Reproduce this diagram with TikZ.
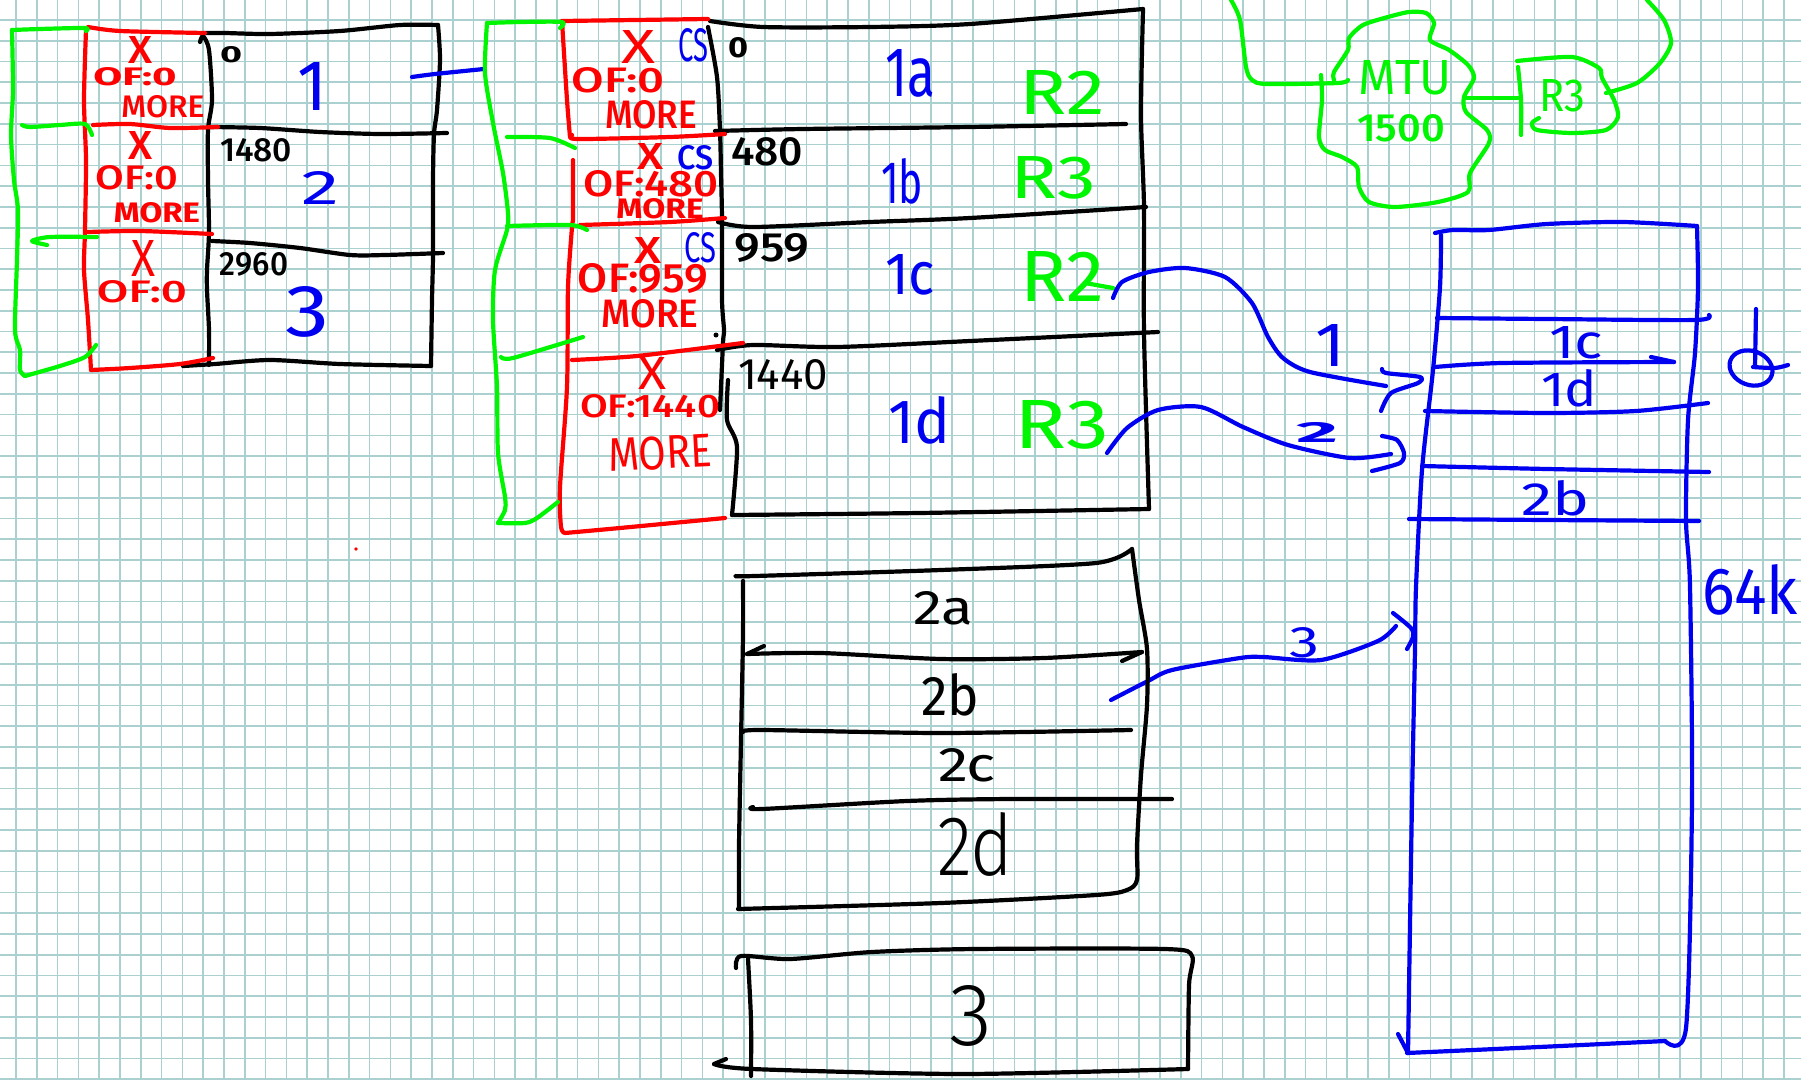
\documentclass[tikz,border=0pt]{standalone}
\usepackage{graphicx}
\usepackage{fontspec}
\setmainfont{Fira Sans}
\newfontfamily\lightf{Fira Sans Light}
\newfontfamily\mediumf{Fira Sans Medium}
\definecolor{hgreen}{RGB}{0,245,0}
\definecolor{hred}{RGB}{255,0,0}
\definecolor{hblue}{RGB}{0,0,240}
\definecolor{gridc}{RGB}{170,208,208}
\newcommand{\lab}[7][0]{\node[textmark,text=#6,rotate=#1] (#2) at (#3) {\resizebox{#4pt}{#5pt}{\ifdim#5pt<22pt\bfseries\else\ifdim#5pt<30pt\mediumf\else\ifdim#5pt>55pt\lightf\fi\fi\fi #7}};}
\tikzset{
  textmark/.style={inner sep=0pt,outer sep=0pt,anchor=center},
  ink/.style={line width=4.2pt,line cap=round,line join=round,smooth,tension=0.45},
  bk/.style={ink,draw=black},
  rd/.style={ink,draw=hred},
  gn/.style={ink,draw=hgreen},
  bl/.style={ink,draw=hblue},
  gridline/.style={draw=gridc,line width=1.7pt}
}
\begin{document}
\begin{tikzpicture}[x=1pt,y=-1pt]
\useasboundingbox (0,0) rectangle (1801,1079);
\fill[white] (0,0) rectangle (1801,1079);
% grid paper
\foreach \k in {0,...,86}{\draw[gridline] ({16+20.8*\k},0) -- ({16+20.8*\k},1079);}
\foreach \k in {0,...,51}{\draw[gridline] (0,{20+20.77*\k}) -- (1801,{20+20.77*\k});}

% ---------- first packet: black
\draw[bk] plot coordinates {(205,33)(225,33)(270,34)(340,31)(400,25)(438,25)};
\draw[bk] plot coordinates {(438,25)(440,60)(437,110)(434,134)(433,180)(433,255)(432,300)(431,366)};
\draw[bk] plot coordinates {(431,366)(340,364)(270,360)(215,364)(183,366)};
\draw[bk] plot coordinates {(200,42)(203,36)(209,50)(212,100)(208,130)(208,180)(209,232)(207,270)(207,290)(209,330)(209,365)};
\draw[bk] plot coordinates {(210,127)(260,128)(320,132)(380,134)(447,133)};
\draw[bk] plot coordinates {(212,241)(250,243)(300,248)(350,255)(385,255)(443,253)};
% first packet: red
\draw[rd] plot coordinates {(88,27)(120,31)(205,33)};
\draw[rd] plot coordinates {(86,30)(84,100)(86,160)(85,230)(84,270)(88,320)(91,370)};
\draw[rd] plot coordinates {(91,370)(130,368)(180,364)(213,358)};
\draw[rd] plot coordinates {(93,125)(130,124)(170,128)(218,127)};
\draw[rd] plot coordinates {(88,232)(140,231)(212,234)};
% first packet: green
\draw[gn] plot coordinates {(86,31)(85,28)(40,29)(12,30)};
\draw[gn] plot coordinates {(12,30)(13,90)(11,135)(14,180)(18,210)(17,260)(15,330)(20,350)(20,370)(25,376)};
\draw[gn] plot coordinates {(25,376)(60,366)(85,357)(96,345)};
\draw[gn] plot coordinates {(22,125)(30,127)(60,125)(85,124)(92,135)};
\draw[gn] plot coordinates {(47,245)(32,241)(50,237)(97,237)};
% link to fragments
\draw[bl] plot coordinates {(412,77)(435,74)(484,69)};

% ---------- fragments: black
\draw[bk] plot coordinates {(710,21)(763,27)(870,27)(970,24)(1143,9)};
\draw[bk] plot coordinates {(1143,9)(1141,115)(1144,207)(1144,333)(1149,509)};
\draw[bk] plot coordinates {(1149,509)(919,513)(732,515)};
\draw[bk] plot coordinates {(708,27)(717,77)(720,130)(721,173)(722,220)(722,300)(724,330)(723,343)(720,410)};
\draw[bk] plot coordinates {(728,380)(727,420)(737,447)(732,515)};
\draw[bk] plot coordinates {(715,131)(803,129)(970,127)(1126,124)};
\draw[bk] plot coordinates {(718,222)(753,227)(870,222)(970,218)(1146,207)};
\draw[bk] plot coordinates {(717,350)(753,345)(837,347)(970,341)(1158,332)};
\fill (716,335) circle (2.5pt);
% fragments: red
\draw[rd] plot coordinates {(708,19)(562,21)};
\draw[rd] plot coordinates {(562,21)(567,100)(570,137)};
\draw[rd] plot coordinates {(573,160)(573,217)(572,227)(568,287)(567,387)(560,487)(561,527)(565,533)};
\draw[rd] plot coordinates {(565,533)(620,528)(725,518)};
\draw[rd] plot coordinates {(572,135)(577,139)(670,137)(725,134)};
\draw[rd] plot coordinates {(580,225)(670,222)(725,218)};
\draw[rd] plot coordinates {(572,360)(637,356)(743,343)};
% fragments: green
\draw[gn] plot coordinates {(560,28)(562,22)(520,22)(487,23)};
\draw[gn] plot coordinates {(487,23)(485,73)(493,123)(503,173)(508,213)(507,230)(495,270)(493,320)(497,387)(498,453)(505,497)(505,510)(498,523)};
\draw[gn] plot coordinates {(498,523)(525,523)(537,518)(558,502)};
\draw[gn] plot coordinates {(507,137)(550,138)(575,148)};
\draw[gn] plot coordinates {(507,226)(570,225)(587,230)};
\draw[gn] plot coordinates {(501,357)(513,358)(583,337)};
\draw[gn] plot coordinates {(1085,283)(1113,288)};

% ---------- cloud
\draw[gn] plot coordinates {(1231,0)(1240,20)(1246,67)(1252,80)(1267,84)(1338,83)(1348,80)};
\draw[gn] plot coordinates {(1334,80)(1334,72)(1348,50)(1349,38)(1363,25)(1388,17)(1409,12)(1426,13)(1434,23)(1430,40)(1449,50)(1468,65)(1474,78)(1464,97)(1466,112)(1487,130)(1489,143)(1470,173)(1468,192)(1438,202)(1395,207)(1369,202)(1359,187)(1357,167)(1342,157)(1325,150)(1319,137)(1322,100)(1321,75)};
\draw[gn] plot coordinates {(1466,98)(1518,98)};
\draw[gn] plot coordinates {(1518,67)(1521,100)(1521,135)};
\draw[gn] plot coordinates {(1517,61)(1572,57)(1599,68)(1602,78)(1614,100)(1618,117)(1606,130)(1572,133)(1537,130)(1532,123)(1539,118)};
\draw[gn] plot coordinates {(1647,0)(1664,20)(1671,43)(1660,63)(1637,83)(1606,93)};

% ---------- reassembly buffer
\draw[bl] plot coordinates {(1435,233)(1453,230)(1489,230)(1547,224)(1623,222)(1697,226)};
\draw[bl] plot coordinates {(1697,226)(1698,287)(1695,353)(1688,420)(1686,520)(1690,587)(1692,800)(1686,1028)(1665,1041)};
\draw[bl] plot coordinates {(1665,1041)(1539,1047)(1407,1053)};
\draw[bl] plot coordinates {(1441,235)(1440,287)(1433,370)(1422,470)(1416,587)(1415,650)(1412,800)(1408,1053)};
\draw[bl] plot coordinates {(1408,1053)(1398,1034)};
\draw[bl] plot coordinates {(1437,318)(1547,319)(1695,320)(1709,315)};
\draw[bl] plot coordinates {(1435,367)(1502,363)(1674,362)};
\draw[bl] plot coordinates {(1674,362)(1651,357)};
\draw[bl] plot coordinates {(1425,411)(1547,413)(1636,411)(1708,403)};
\draw[bl] plot coordinates {(1422,466)(1547,469)(1709,472)};
\draw[bl] plot coordinates {(1409,519)(1547,520)(1699,521)};
% symbol right of buffer
\draw[bl] plot coordinates {(1756,309)(1755,367)};
\draw[bl,rotate around={-20:(1751,368)}] (1751,368) ellipse (22pt and 17pt);
\draw[bl] plot coordinates {(1753,367)(1775,368)(1788,365)};
% arrows
\draw[bl] plot coordinates {(1113,298)(1122,282)(1149,272)(1185,268)(1225,277)(1252,303)(1268,337)(1283,358)(1310,372)(1386,386)};
\draw[bl] plot coordinates {(1382,369)(1386,373)(1420,377)(1418,383)(1391,393)(1381,411)};
\draw[bl] plot coordinates {(1107,453)(1127,428)(1158,410)(1201,407)(1243,427)(1288,445)(1350,458)(1391,454)};
\draw[bl] plot coordinates {(1382,436)(1397,440)(1404,453)(1400,463)(1372,471)};
\draw[bl] plot coordinates {(1111,700)(1148,681)(1172,670)(1240,658)(1263,657)(1321,660)(1378,641)(1396,626)};
\draw[bl] plot coordinates {(1393,613)(1411,628)(1413,637)(1407,649)};

% ---------- second packet
\draw[bk] plot coordinates {(736,576)(755,576)(941,570)(1096,563)(1132,549)};
\draw[bk] plot coordinates {(1132,549)(1139,600)(1147,649)(1147,705)(1141,775)(1137,845)(1137,880)(1127,890)(1096,895)(941,903)(738,909)};
\draw[bk] plot coordinates {(743,581)(743,635)(741,740)(739,845)(739,909)};
\draw[bk] plot coordinates {(764,646)(747,654)};
\draw[bk] plot coordinates {(747,654)(821,653)(941,659)(1044,658)(1142,652)};
\draw[bk] plot coordinates {(1142,652)(1122,661)};
\draw[bk] plot coordinates {(743,732)(762,730)(941,733)(1131,730)};
\draw[bk] plot coordinates {(753,807)(762,809)(907,801)(1010,799)(1172,799)};
% third packet
\draw[bk] plot coordinates {(736,968)(741,956)(790,959)(872,952)(975,949)(1165,949)(1192,956)(1189,985)(1188,1069)};
\draw[bk] plot coordinates {(1188,1069)(963,1074)(752,1069)(714,1064)};
\draw[bk] plot coordinates {(714,1064)(726,1059)};
\draw[bk] plot coordinates {(748,959)(751,1020)(751,1076)};
\fill[hred] (356,549) circle (1.8pt);

% ---------- labels, first packet
\lab{xa}{141,50}{24}{27}{hred}{X}
\lab{ofa}{135,77}{83}{18}{hred}{OF:0}
\lab{ma}{163,107}{83}{22}{hred}{MORE}
\lab{xb}{140,145}{24}{28}{hred}{X}
\lab{ofb}{137,178}{82}{24}{hred}{OF:0}
\lab{mb}{157,213}{86}{20}{hred}{MORE}
\lab{xc}{144,258}{24}{36}{hred}{X}
\lab{ofc}{142,292}{90}{22}{hred}{OF:0}
\lab{oa}{231,55}{22}{16}{black}{0}
\lab{ob}{256,150}{72}{23}{black}{1480}
\lab{oc}{254,264}{68}{23}{black}{2960}
\lab{na}{313,86}{30}{48}{hblue}{1}
\lab{nb}{320,188}{38}{33}{hblue}{2}
\lab{nc}{308,312}{44}{50}{hblue}{3}
% labels, fragments
\lab{xd}{638,47}{34}{33}{hred}{X}
\lab{csa}{693,45}{30}{33}{hblue}{CS}
\lab{ofd}{618,80}{93}{25}{hred}{OF:0}
\lab{md}{651,115}{92}{28}{hred}{MORE}
\lab{od}{738,48}{20}{20}{black}{0}
\lab{la}{910,73}{50}{47}{hblue}{1a}
\lab{ra}{1062,92}{86}{44}{hgreen}{R2}
\lab{xe}{650,156}{26}{26}{hred}{X}
\lab{cse}{695,158}{36}{24}{hblue}{CS}
\lab{ofe}{651,184}{135}{26}{hred}{OF:480}
\lab{me}{660,209}{87}{20}{hred}{MORE}
\lab{oe}{767,152}{72}{28}{black}{480}
\lab{lb}{902,181}{42}{45}{hblue}{1b}
\lab{rb}{1053,178}{86}{42}{hgreen}{R3}
\lab{xf}{648,250}{27}{26}{hred}{X}
\lab{csf}{700,248}{32}{30}{hblue}{CS}
\lab{off}{643,279}{130}{29}{hred}{OF:959}
\lab{mf}{650,314}{97}{28}{hred}{MORE}
\lab{of}{772,248}{75}{28}{black}{959}
\lab{lc}{910,275}{50}{40}{hblue}{1c}
\lab{rc}{1062,276}{84}{50}{hgreen}{R2}
\lab{xg}{652,373}{28}{32}{hred}{X}
\lab{ofg}{650,406}{140}{23}{hred}{OF:1440}
\lab[3]{mg}{660,453}{103}{33}{hred}{MORE}
\lab{og}{783,375}{90}{30}{black}{1440}
\lab{ld}{919,420}{62}{47}{hblue}{1d}
\lab{rd}{1062,425}{95}{48}{hgreen}{R3}
% labels, cloud
\lab{mtu}{1405,78}{94}{34}{hgreen}{MTU}
\lab{mtub}{1401,128}{88}{27}{hgreen}{1500}
\lab{rt}{1562,96}{46}{32}{hgreen}{R3}
% labels, buffer
\lab{bc}{1576,343}{54}{32}{hblue}{1c}
\lab{bd}{1569,388}{56}{37}{hblue}{1d}
\lab{bb}{1556,498}{68}{35}{hblue}{2b}
\lab{sz}{1750,590}{96}{50}{hblue}{64k}
\lab{aa}{1330,345}{30}{42}{hblue}{1}
\lab{ab}{1317,432}{42}{20}{hblue}{2}
\lab{ac}{1304,643}{30}{30}{hblue}{3}
% labels, second and third packet
\lab{ta}{943,608}{60}{33}{black}{2a}
\lab{tb}{950,695}{58}{42}{black}{2b}
\lab{tc}{967,765}{58}{33}{black}{2c}
\lab{td}{975,844}{76}{63}{black}{2d}
\lab{tt}{971,1016}{43}{60}{black}{3}
\end{tikzpicture}
\end{document}
